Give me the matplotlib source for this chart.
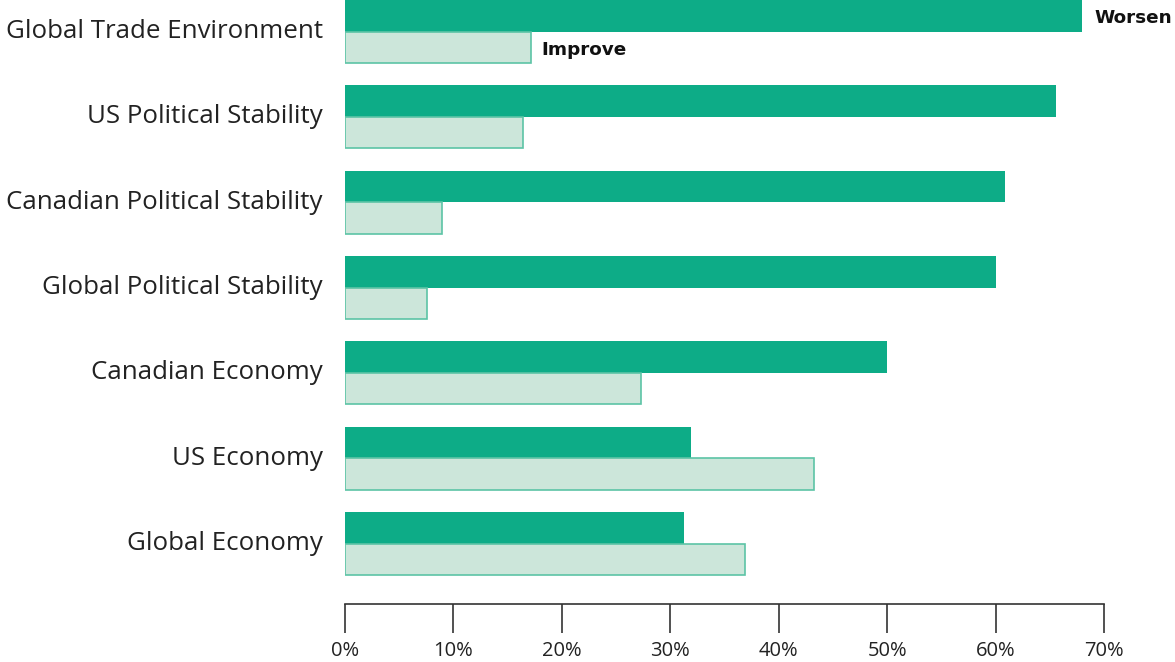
import matplotlib
matplotlib.use("Agg")
import matplotlib.pyplot as plt
import numpy as np

plt.rcParams['font.family'] = ['Open Sans', 'DejaVu Sans']

categories = [
    "Global Trade Environment",
    "US Political Stability",
    "Canadian Political Stability",
    "Global Political Stability",
    "Canadian Economy",
    "US Economy",
    "Global Economy",
]
worsen = [68.0, 65.6, 60.9, 60.0, 50.0, 31.9, 31.3]
improve = [17.2, 16.4, 8.9, 7.6, 27.3, 43.3, 36.9]
xticks = [0, 10, 20, 30, 40, 50, 60, 70]

c_worsen = "#0DAC87"
c_improve_fill = "#CCE6DA"
c_improve_edge = "#5CC4A6"

fig = plt.figure(figsize=(11.75, 6.62), dpi=100)
ax = fig.add_axes([345 / 1175, 1 - 604 / 662, (1104 - 345) / 1175, 604 / 662])

n = len(categories)
pos = np.arange(n)[::-1]
h = 0.369

ax.barh(pos + h / 2, worsen, height=h, color=c_worsen, edgecolor="none")
ax.barh(pos - h / 2, improve, height=h, color=c_improve_fill,
        edgecolor=c_improve_edge, linewidth=1.2)

ax.set_xlim(0, 70)
ax.set_ylim(-0.706, n - 1 + 0.369)

ax.set_yticks(pos)
ax.set_yticklabels(categories, fontsize=18.6, color="#222222", va="center")
ax.tick_params(axis="y", length=0, pad=16)

ax.set_xticks(xticks)
ax.set_xticklabels([f"{v}%" for v in xticks], fontsize=14.5, color="#222222")
ax.tick_params(axis="x", length=21, width=1.2, color="#333333", pad=6)

for side in ["top", "right", "left"]:
    ax.spines[side].set_visible(False)
ax.spines["bottom"].set_color("#333333")
ax.spines["bottom"].set_linewidth(1.2)

label_font = dict(family="DejaVu Sans", fontsize=13.2, fontweight="bold",
                  color="#111111")
ax.annotate("Worsen", xy=(worsen[0], pos[0] + h / 2), xytext=(9, -1.5),
            textcoords="offset points", va="center", ha="left",
            annotation_clip=False, **label_font)
ax.annotate("Improve", xy=(improve[0], pos[0] - h / 2), xytext=(7, -2),
            textcoords="offset points", va="center", ha="left",
            annotation_clip=False, **label_font)

fig.savefig("out.png", dpi=100)
